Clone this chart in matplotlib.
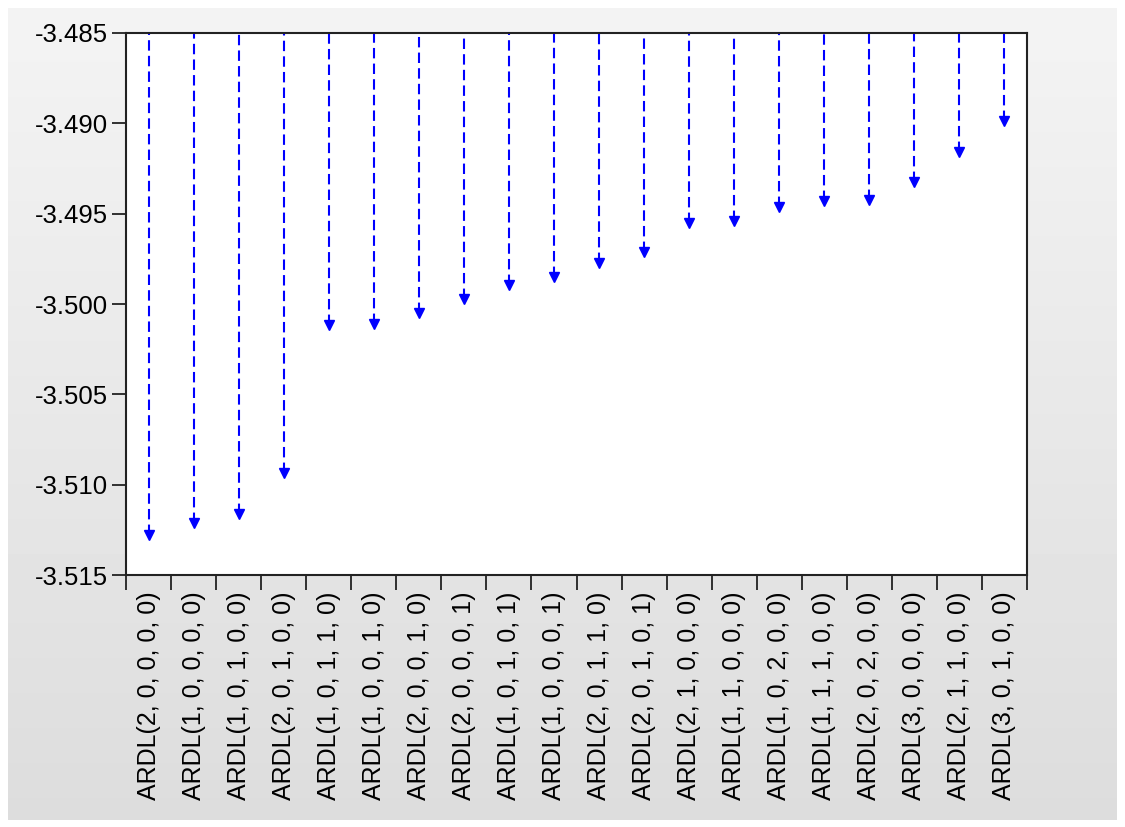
import numpy as np
import matplotlib
matplotlib.use("Agg")
import matplotlib.pyplot as plt

plt.rcParams["font.family"] = ["Liberation Sans", "DejaVu Sans"]

models = [
    "ARDL(2, 0, 0, 0, 0)", "ARDL(1, 0, 0, 0, 0)", "ARDL(1, 0, 1, 0, 0)",
    "ARDL(2, 0, 1, 0, 0)", "ARDL(1, 0, 1, 1, 0)", "ARDL(1, 0, 0, 1, 0)",
    "ARDL(2, 0, 0, 1, 0)", "ARDL(2, 0, 0, 0, 1)", "ARDL(1, 0, 1, 0, 1)",
    "ARDL(1, 0, 0, 0, 1)", "ARDL(2, 0, 1, 1, 0)", "ARDL(2, 0, 1, 0, 1)",
    "ARDL(2, 1, 0, 0, 0)", "ARDL(1, 1, 0, 0, 0)", "ARDL(1, 0, 2, 0, 0)",
    "ARDL(1, 1, 1, 0, 0)", "ARDL(2, 0, 2, 0, 0)", "ARDL(3, 0, 0, 0, 0)",
    "ARDL(2, 1, 1, 0, 0)", "ARDL(3, 0, 1, 0, 0)",
]
criteria = [
    -3.51279, -3.51211, -3.51164, -3.50937, -3.50116, -3.50111,
    -3.50050, -3.49972, -3.49895, -3.49851, -3.49773, -3.49712,
    -3.49550, -3.49542, -3.49461, -3.49432, -3.49424, -3.49327,
    -3.49157, -3.48987,
]

W, H = 1125, 827
fig = plt.figure(figsize=(W / 100, H / 100), dpi=100, facecolor="white")

# grey gradient panel behind the chart
bg = fig.add_axes([8 / W, 7 / H, 1109 / W, 812 / H], zorder=0)
grad = np.linspace(0.955, 0.865, 256).reshape(-1, 1)
bg.imshow(grad, cmap="gray", vmin=0, vmax=1, aspect="auto", extent=[0, 1, 0, 1])
bg.set_axis_off()

left, right, top, bottom = 126, 1027, 33, 575
ax = fig.add_axes([left / W, 1 - bottom / H, (right - left) / W, (bottom - top) / H], zorder=1)
ax.set_facecolor("white")

x = np.arange(len(models))
top_val = -3.485
ax.vlines(x, criteria, top_val, colors="#0000ff", linewidth=1.5,
          linestyles=(0, (5, 2.5)))
ax.plot(x, criteria, "v", color="#0000ff", markersize=6.5, linestyle="none")

ax.set_xlim(-0.5, len(models) - 0.5)
ax.set_ylim(-3.515, -3.485)
ax.set_yticks([-3.515, -3.510, -3.505, -3.500, -3.495, -3.490, -3.485])
ax.set_yticklabels([f"{v:.3f}" for v in ax.get_yticks()])

ax.set_xticks(x)
ax.set_xticklabels(models, rotation=90, fontsize=18)
ax.set_xticks(np.arange(-0.5, len(models)), minor=True)
ax.tick_params(axis="x", which="major", length=0, pad=12)
ax.tick_params(axis="x", which="minor", length=11, width=1.3, direction="out", color="#222222")
ax.tick_params(axis="y", length=10, width=1.3, direction="out", labelsize=18.5, pad=3, color="#222222")

for s in ax.spines.values():
    s.set_linewidth(1.5)
    s.set_color("#222222")

fig.savefig("out.png", dpi=100, facecolor=fig.get_facecolor())
